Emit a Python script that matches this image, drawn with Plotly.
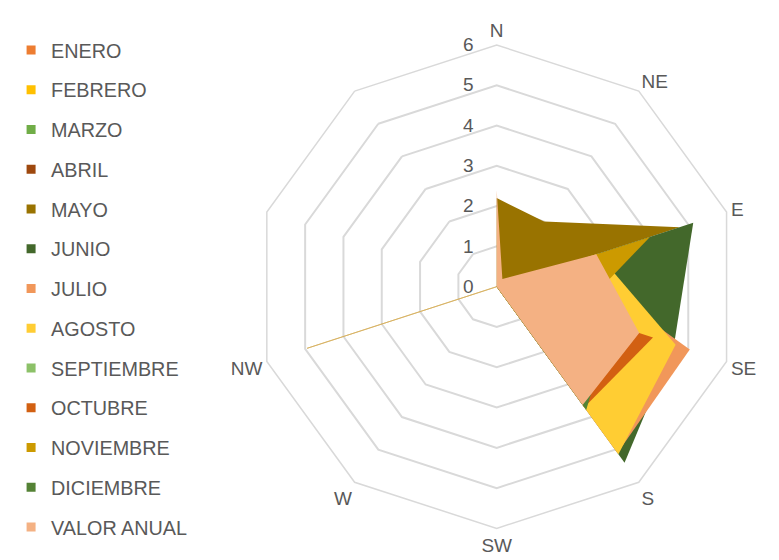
import plotly.graph_objects as go

DIRS = ["N", "NE", "E", "SE", "S", "SW", "W", "NW", " ", "  "]
RADIAL_TICKS = [0, 1, 2, 3, 4, 5, 6]

SERIES = ["ENERO", "FEBRERO", "MARZO", "ABRIL", "MAYO", "JUNIO", "JULIO",
          "AGOSTO", "SEPTIEMBRE", "OCTUBRE", "NOVIEMBRE", "DICIEMBRE", "VALOR ANUAL"]

enero      = [0, 0, 1.8, 2.6, 2.4, 0, 0, 0, 0, 0]
febrero    = [0, 0, 0, 0, 0, 0, 0, 4.95, 0, 0]
marzo      = [0, 0, 1.5, 2.8, 2.9, 0, 0, 0, 0, 0]
abril      = [0, 0, 2.0, 3.0, 2.5, 0, 0, 0, 0, 0]
mayo       = [2.2, 2.0, 4.78, 0, 0, 0, 0, 0, 0, 0]
junio      = [0, 0, 5.13, 4.63, 5.4, 0, 0, 0, 0, 0]
julio      = [0, 0, 1.9, 5.04, 5.1, 0, 0, 0, 0, 0]
agosto     = [0, 0, 2.64, 4.67, 5.14, 0, 0, 0, 0, 0]
septiembre = [0, 0, 1.2, 2.2, 2.0, 0, 0, 0, 0, 0]
octubre    = [0, 0, 0, 4.08, 3.7, 0, 0, 0, 0, 0]
noviembre  = [0, 0, 4.0, 2.1, 1.0, 0, 0, 0, 0, 0]
diciembre  = [0, 0, 0, 3.0, 3.78, 0, 0, 0, 0, 0]
anual      = [2.4, 0.24, 2.6, 3.72, 3.63, 0, 0, 0, 0, 0]

VALUES = [enero, febrero, marzo, abril, mayo, junio, julio, agosto,
          septiembre, octubre, noviembre, diciembre, anual]
COLORS = ["#ED7D31", "#FFC000", "#70AD47", "#9E480E", "#997300", "#43682B", "#F1975A",
          "#FFCD33", "#8CC168", "#D26012", "#CC9A00", "#548235", "#F4B183"]

TXT = "#595959"
FONT = "Liberation Sans, Arial, sans-serif"

fig = go.Figure()
for name, vals, col in zip(SERIES, VALUES, COLORS):
    lw = 0.8 if name == "FEBRERO" else 0
    lc = "#D6AE5C" if name == "FEBRERO" else col
    fig.add_trace(go.Scatterpolar(
        r=vals, theta=DIRS, fill="toself", fillcolor=col, mode="lines",
        line=dict(width=lw, color=lc), name=name, legendgroup=name,
        showlegend=False, hoverinfo="skip"))

for name, col in zip(SERIES, COLORS):
    fig.add_trace(go.Scatterpolar(
        r=[None], theta=[None], mode="markers", name=name, legendgroup=name,
        marker=dict(symbol="square", size=9, color=col), showlegend=True))

W, H = 771, 552
CX, CY, RAD = 488.7, 278.7, 241.7

fig.update_layout(
    width=W, height=H, autosize=False,
    margin=dict(l=0, r=0, t=0, b=0),
    paper_bgcolor="white",
    font=dict(family=FONT, color=TXT, size=19),
    showlegend=True,
    legend=dict(x=0.004, y=0.959, xanchor="left", yanchor="top",
                font=dict(size=19.8, color=TXT, family=FONT),
                tracegroupgap=11, bgcolor="rgba(0,0,0,0)"),
    polar=dict(
        domain=dict(x=[(CX - RAD) / W, (CX + RAD) / W],
                    y=[(H - CY - RAD) / H, (H - CY + RAD) / H]),
        bgcolor="white",
        gridshape="linear",
        radialaxis=dict(range=[0, 6], tickvals=RADIAL_TICKS, angle=90, tickangle=90,
                        showline=False, gridcolor="#D9D9D9", gridwidth=1.5,
                        tickfont=dict(size=19, color=TXT, family=FONT),
                        ticks="outside", ticklen=16, tickcolor="rgba(0,0,0,0)",
                        side="counterclockwise"),
        angularaxis=dict(type="category", categoryarray=DIRS, rotation=90,
                         direction="clockwise", showgrid=False, showline=True,
                         linecolor="#D9D9D9", linewidth=1.5,
                         tickfont=dict(size=19, color=TXT, family=FONT),
                         ticks="outside", ticklen=0, tickcolor="rgba(0,0,0,0)"),
    ),
)

fig.write_html("out.html")
